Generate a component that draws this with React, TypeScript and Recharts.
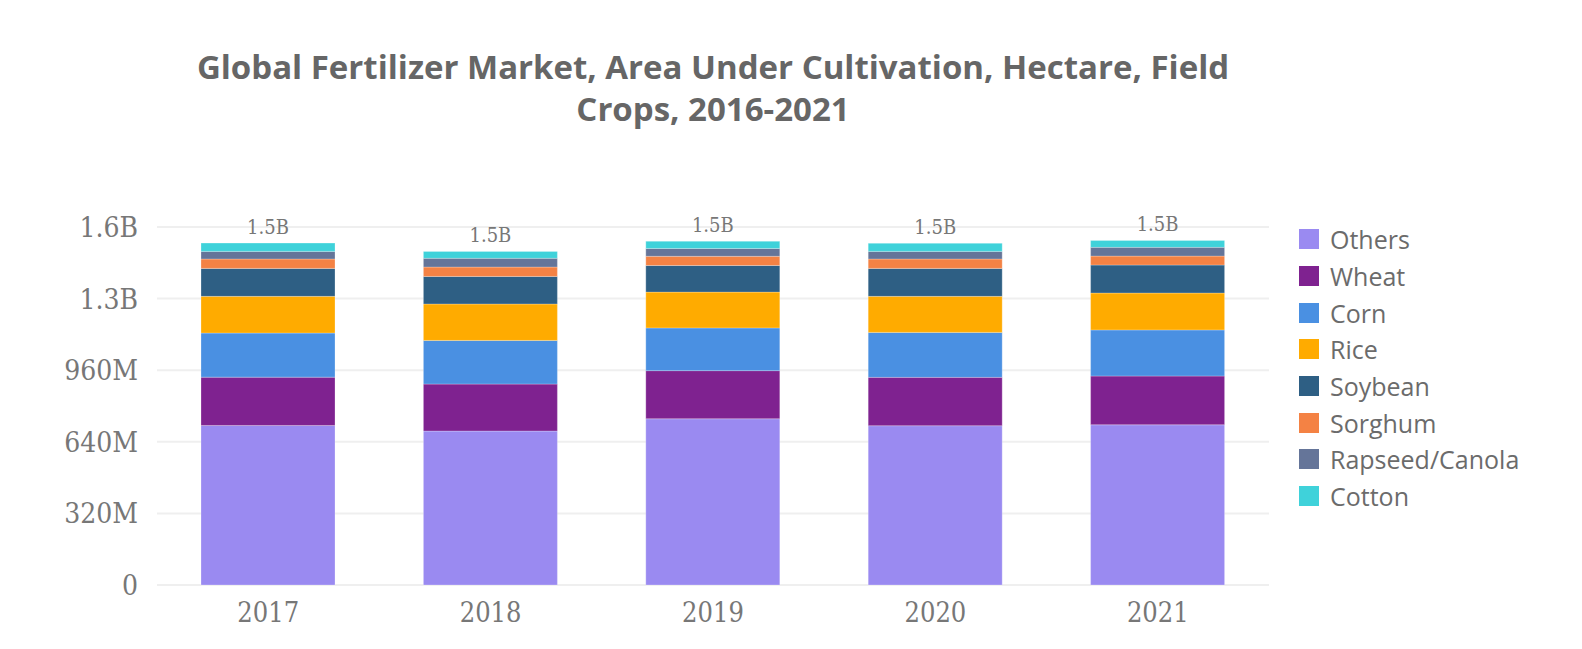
import { BarChart, Bar, XAxis, YAxis, CartesianGrid, Legend, LabelList } from 'recharts'

// values in million hectares
const years = ['2017', '2018', '2019', '2020', '2021']
const others = [713, 688, 743, 712, 716]
const wheat = [216, 210, 215, 216, 218]
const corn = [197, 195, 191, 201, 206]
const rice = [164, 163, 160, 161, 165]
const soybean = [125, 123, 119, 125, 125]
const sorghum = [42, 42, 41, 42, 40]
const rapeseed = [34, 39, 35, 34, 39]
const cotton = [37, 31, 32, 36, 31]

const yTicks = [0, 320e6, 640e6, 960e6, 1280e6, 1600e6]

const SERIES = [
  { key: 'others', name: 'Others', color: '#9a8af1', values: others },
  { key: 'wheat', name: 'Wheat', color: '#7f2290', values: wheat },
  { key: 'corn', name: 'Corn', color: '#4a90e2', values: corn },
  { key: 'rice', name: 'Rice', color: '#ffab00', values: rice },
  { key: 'soybean', name: 'Soybean', color: '#2e5f84', values: soybean },
  { key: 'sorghum', name: 'Sorghum', color: '#f48244', values: sorghum },
  { key: 'rapeseed', name: 'Rapseed/Canola', color: '#657599', values: rapeseed },
  { key: 'cotton', name: 'Cotton', color: '#3fd2da', values: cotton },
]

const chartData = years.map((year, i) => {
  const row: Record<string, string | number> = { year }
  let total = 0
  SERIES.forEach(s => {
    row[s.key] = s.values[i] * 1e6
    total += s.values[i] * 1e6
  })
  row.total = total
  return row
})

function formatValue(v: number): string {
  if (v >= 1e9) return `${(v / 1e9).toFixed(1)}B`
  if (v >= 1e6) return `${(v / 1e6).toFixed(0)}M`
  return `${v}`
}

const SLAB = { fontFamily: '"DejaVu Serif", serif', fontStretch: 'condensed' as const }

function LegendList() {
  return (
    <div>
      {SERIES.map(s => (
        <div key={s.key} style={{ display: 'flex', alignItems: 'center', height: 36.7 }}>
          <span style={{ width: 20, height: 20, background: s.color, display: 'inline-block', marginRight: 11, flexShrink: 0 }} />
          <span style={{ fontFamily: '"Open Sans", sans-serif', fontSize: 25, color: '#6b6b6b', whiteSpace: 'nowrap' }}>{s.name}</span>
        </div>
      ))}
    </div>
  )
}

export default function App() {
  return (
    <div style={{ position: 'absolute', left: 0, top: 0, width: 1582, height: 649, background: '#fff' }}>
      <div
        style={{
          position: 'absolute', left: 0, top: 46, width: 1426, textAlign: 'center',
          fontFamily: '"Open Sans", sans-serif', fontWeight: 700, fontSize: 33, lineHeight: '42px', color: '#666666',
        }}
      >
        Global Fertilizer Market, Area Under Cultivation, Hectare, Field
        <br />
        Crops, 2016-2021
      </div>
      <BarChart
        width={1582}
        height={649}
        data={chartData}
        margin={{ top: 227, right: 313, left: 0, bottom: 24 }}
        style={{ position: 'absolute', left: 0, top: 0 }}
      >
        <CartesianGrid vertical={false} stroke="#efefef" strokeWidth={2} />
        <XAxis
          dataKey="year"
          axisLine={false}
          tickLine={false}
          tickSize={0}
          tickMargin={18}
          height={40}
          tick={{ fontSize: 27, fill: '#777777', ...SLAB }}
        />
        <YAxis
          domain={[0, 1600e6]}
          ticks={yTicks}
          tickFormatter={formatValue}
          axisLine={false}
          tickLine={false}
          tickSize={0}
          tickMargin={19}
          width={157}
          tick={{ fontSize: 28, fill: '#777777', ...SLAB }}
        />
        <Legend
          layout="vertical"
          align="center"
          verticalAlign="middle"
          wrapperStyle={{ left: 1299, top: 221, width: 280 }}
          content={() => <LegendList />}
        />
        {SERIES.map((s, idx) => (
          <Bar
            key={s.key}
            dataKey={s.key}
            name={s.name}
            stackId="a"
            fill={s.color}
            stroke="#ffffff"
            strokeOpacity={0.25}
            strokeWidth={1}
            barSize={134}
            isAnimationActive={false}
          >
            {idx === SERIES.length - 1 && (
              <LabelList
                dataKey="total"
                position="top"
                offset={9}
                formatter={(v: number) => formatValue(v)}
                style={{ fontSize: 20, fill: '#777777', ...SLAB }}
              />
            )}
          </Bar>
        ))}
      </BarChart>
    </div>
  )
}
